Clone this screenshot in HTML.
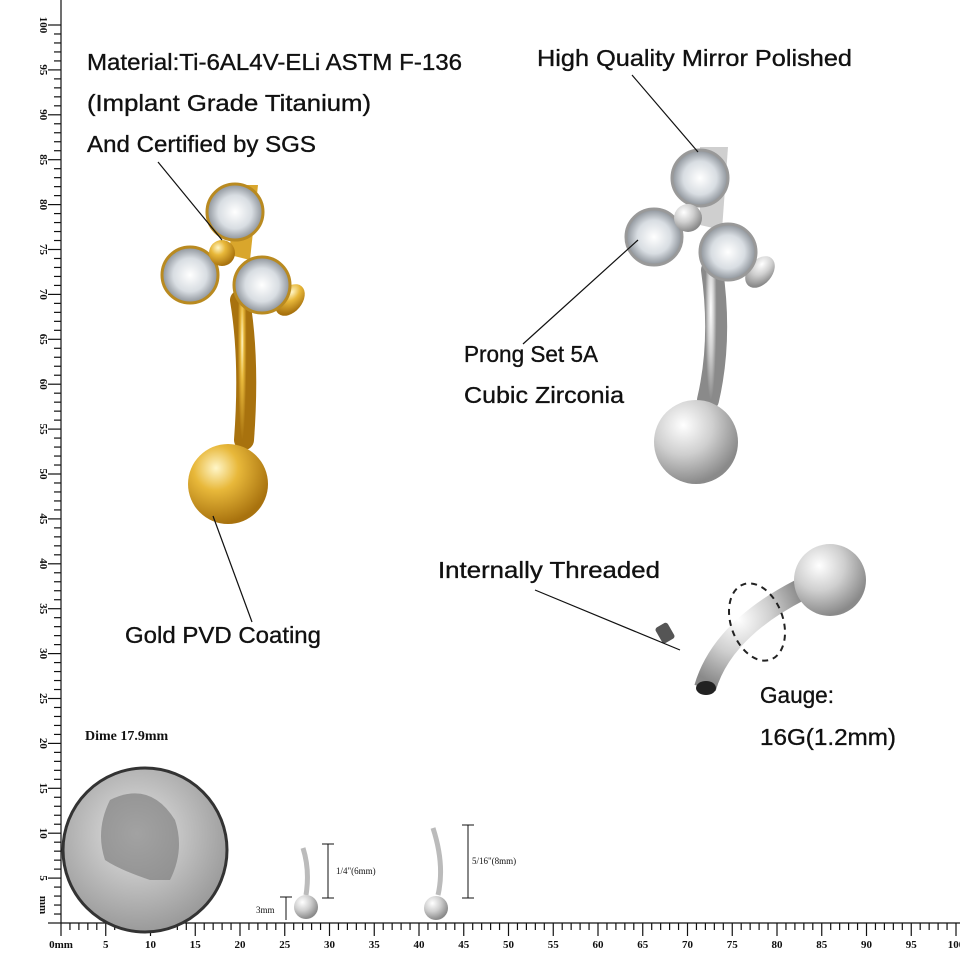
<!DOCTYPE html>
<html><head><meta charset="utf-8"><style>
html,body{margin:0;padding:0;background:#fff;}
svg{display:block}
.t{font-family:"Liberation Sans",sans-serif;font-size:23px;fill:#111;stroke:#111;stroke-width:0.35}
.s{font-family:"Liberation Serif",serif;font-size:11px;font-weight:bold;fill:#111}
</style></head><body>
<svg width="960" height="960" viewBox="0 0 960 960" xmlns="http://www.w3.org/2000/svg">
<defs>
<radialGradient id="gold" cx="35%" cy="30%" r="70%"><stop offset="0" stop-color="#fff6c8"/><stop offset=".4" stop-color="#e8b83a"/><stop offset="1" stop-color="#a8720e"/></radialGradient>
<radialGradient id="silv" cx="35%" cy="30%" r="70%"><stop offset="0" stop-color="#ffffff"/><stop offset=".5" stop-color="#cfcfcf"/><stop offset="1" stop-color="#8a8a8a"/></radialGradient>
<radialGradient id="gem" cx="50%" cy="50%" r="50%"><stop offset="0" stop-color="#ffffff"/><stop offset=".6" stop-color="#d8dde2"/><stop offset="1" stop-color="#8c9299"/></radialGradient>
<radialGradient id="dime" cx="45%" cy="40%" r="60%"><stop offset="0" stop-color="#e4e4e4"/><stop offset="1" stop-color="#9a9a9a"/></radialGradient>
</defs>
<g stroke="#111" stroke-width="1.2">
<line x1="61" y1="0" x2="61" y2="923"/>
<line x1="61" y1="923" x2="960" y2="923"/>
</g>
<g stroke="#111" stroke-width="1.2" id="ticks"></g>
<!-- gold piece -->
<path d="M240 300 Q250 360 244 440" stroke="url(#gold)" stroke-width="20" fill="none" stroke-linecap="round"/>
<path d="M232 185 L258 185 L250 260 L230 255 Z" fill="#d9a62c"/>
<ellipse cx="290" cy="300" rx="12" ry="18" fill="url(#gold)" transform="rotate(40 290 300)"/>
<circle cx="235" cy="212" r="28" fill="url(#gem)" stroke="#b98a20" stroke-width="3"/>
<circle cx="190" cy="275" r="28" fill="url(#gem)" stroke="#b98a20" stroke-width="3"/>
<circle cx="262" cy="285" r="28" fill="url(#gem)" stroke="#b98a20" stroke-width="3"/>
<circle cx="222" cy="253" r="13" fill="url(#gold)"/>
<circle cx="228" cy="484" r="40" fill="url(#gold)"/>
<!-- silver piece -->
<path d="M712 270 Q722 340 708 400" stroke="url(#silv)" stroke-width="22" fill="none" stroke-linecap="round"/>
<path d="M700 147 L728 147 L722 230 L700 225 Z" fill="#cfcfcf"/>
<ellipse cx="760" cy="272" rx="12" ry="18" fill="url(#silv)" transform="rotate(40 760 272)"/>
<circle cx="700" cy="178" r="28" fill="url(#gem)" stroke="#999" stroke-width="3"/>
<circle cx="654" cy="237" r="28" fill="url(#gem)" stroke="#999" stroke-width="3"/>
<circle cx="728" cy="252" r="28" fill="url(#gem)" stroke="#999" stroke-width="3"/>
<circle cx="688" cy="218" r="14" fill="url(#silv)"/>
<circle cx="696" cy="442" r="42" fill="url(#silv)"/>
<!-- bottom right barbell -->
<path d="M705 688 Q722 630 800 590" stroke="url(#silv)" stroke-width="22" fill="none"/>
<ellipse cx="706" cy="688" rx="10" ry="7" fill="#222"/>
<circle cx="830" cy="580" r="36" fill="url(#silv)"/>
<ellipse cx="757" cy="622" rx="26" ry="40" fill="none" stroke="#222" stroke-width="2" stroke-dasharray="6,5" transform="rotate(-20 757 622)"/>
<rect x="658" y="624" width="14" height="18" rx="3" fill="#555" transform="rotate(-30 665 633)"/>
<!-- dime -->
<circle cx="145" cy="850" r="82" fill="url(#dime)" stroke="#333" stroke-width="3"/>
<path d="M110 800 Q150 780 175 820 Q185 850 170 880 L150 880 Q120 870 105 860 Q95 830 110 800Z" fill="#777" opacity=".6"/>
<!-- small barbells -->
<path d="M303 848 Q310 870 306 895" stroke="#bbb" stroke-width="5" fill="none"/><circle cx="306" cy="907" r="12" fill="url(#silv)"/>
<path d="M433 828 Q445 865 438 895" stroke="#bbb" stroke-width="5" fill="none"/><circle cx="436" cy="908" r="12" fill="url(#silv)"/>
<g stroke="#111" stroke-width="1" fill="none">
<path d="M322 844 H334 M328 844 V898 M322 898 H334"/>
<path d="M280 897 H292 M286 897 V920"/>
<path d="M462 825 H474 M468 825 V898 M462 898 H474"/>
</g>
<text x="336" y="874" class="s" style="font-size:9px;font-weight:normal">1/4"(6mm)</text>
<text x="472" y="864" class="s" style="font-size:9px;font-weight:normal">5/16"(8mm)</text>
<text x="256" y="913" class="s" style="font-size:9px;font-weight:normal">3mm</text>
<!-- leader lines -->
<g stroke="#111" stroke-width="1.2">
<line x1="158" y1="162" x2="222" y2="240"/>
<line x1="632" y1="75" x2="698" y2="152"/>
<line x1="523" y1="344" x2="638" y2="240"/>
<line x1="252" y1="622" x2="213" y2="516"/>
<line x1="535" y1="590" x2="680" y2="650"/>
</g>
<text class="t" x="87" y="70" textLength="375" lengthAdjust="spacingAndGlyphs">Material:Ti-6AL4V-ELi ASTM F-136</text>
<text class="t" x="87" y="111" textLength="284" lengthAdjust="spacingAndGlyphs">(Implant Grade Titanium)</text>
<text class="t" x="87" y="152" textLength="229" lengthAdjust="spacingAndGlyphs">And Certified by SGS</text>
<text class="t" x="537" y="66" textLength="315" lengthAdjust="spacingAndGlyphs">High Quality Mirror Polished</text>
<text class="t" x="464" y="362" textLength="134" lengthAdjust="spacingAndGlyphs">Prong Set 5A</text>
<text class="t" x="464" y="403" textLength="160" lengthAdjust="spacingAndGlyphs">Cubic Zirconia</text>
<text class="t" x="125" y="643" textLength="196" lengthAdjust="spacingAndGlyphs">Gold PVD Coating</text>
<text class="t" x="438" y="578" textLength="222" lengthAdjust="spacingAndGlyphs">Internally Threaded</text>
<text class="t" x="760" y="703" textLength="74" lengthAdjust="spacingAndGlyphs">Gauge:</text>
<text class="t" x="760" y="745" textLength="136" lengthAdjust="spacingAndGlyphs">16G(1.2mm)</text>
<text class="s" x="85" y="740" style="font-size:14px">Dime 17.9mm</text>
<g id="lbl"></g>
</svg>
<script>
var NS="http://www.w3.org/2000/svg",t=document.getElementById("ticks"),l=document.getElementById("lbl");
function ln(a,b,c,d){var e=document.createElementNS(NS,"line");e.setAttribute("x1",a);e.setAttribute("y1",b);e.setAttribute("x2",c);e.setAttribute("y2",d);t.appendChild(e);}
function tx(x,y,s,r){var e=document.createElementNS(NS,"text");e.setAttribute("x",x);e.setAttribute("y",y);e.setAttribute("class","s");if(r)e.setAttribute("transform","rotate(90 "+x+" "+y+")");e.setAttribute("text-anchor","middle");e.textContent=s;l.appendChild(e);}
for(var i=0;i<=100;i++){var big=i%5==0;
 var x=61+i*8.95; ln(x,923,x,big?936:930);
 var y=923-i*8.98; ln(big?48:54,y,61,y);
 if(big){tx(x,948,i==0?"0mm":(i==100?"100":String(i)),false);
  if(i>0)tx(40,y,String(i),true);}
}
tx(40,905,"mm",true);
</script>
</body></html>
